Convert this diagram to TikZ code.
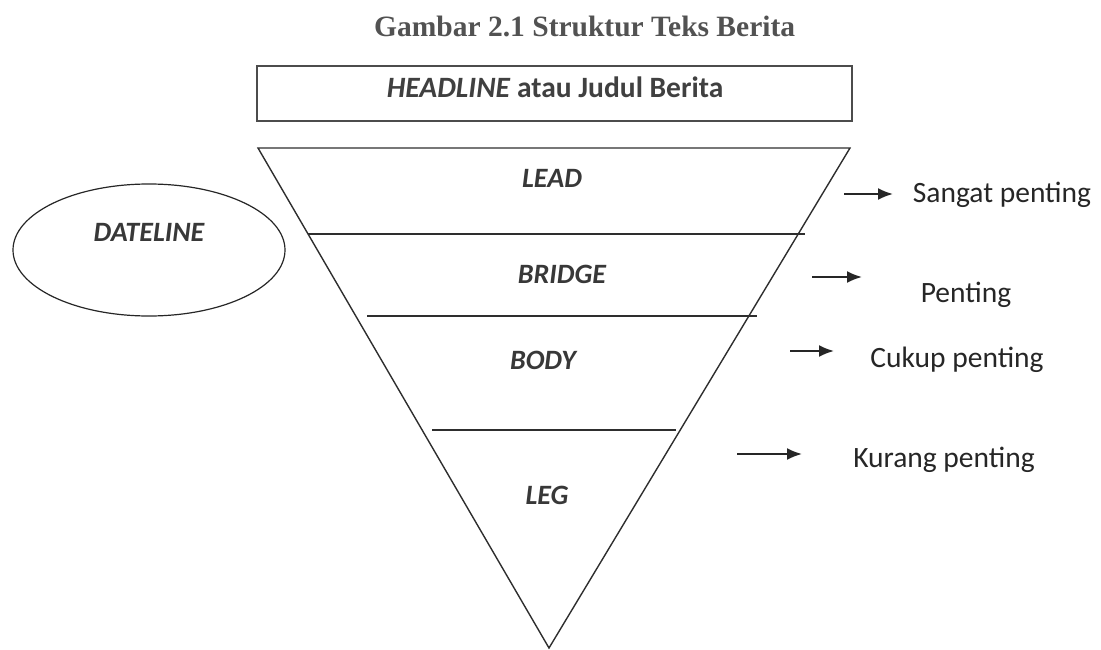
\documentclass[tikz,border=0pt]{standalone}
\usepackage{fontspec}
\setmainfont{Carlito}
\newfontfamily\titlefont{Liberation Serif}
\usetikzlibrary{arrows.meta,shapes.geometric}
\begin{document}
\begin{tikzpicture}[x=1pt,y=-1pt,
  ln/.style={line width=1.4pt, draw=black!82},
  lbl/.style={font=\fontsize{28}{30}\selectfont\bfseries\itshape, text=black!78, inner sep=0pt},
  side/.style={font=\fontsize{29.5}{32}\selectfont, text=black!85, inner sep=0pt},
  arr/.style={line width=1.9pt, draw=black!85, -{Latex[length=15pt,width=12pt]}}]
\useasboundingbox (0,0) rectangle (1101,650);
% title
\node[text=black!68, inner sep=0pt, anchor=west] (title) at (374,26) {\titlefont\bfseries\fontsize{29.5}{32}\selectfont Gambar 2.1 Struktur Teks Berita};
% headline box
\node[draw=black!70, line width=1.3pt, minimum width=595pt, minimum height=55pt, inner sep=0pt] (box) at (554.5,93.5) {};
\node[font=\fontsize{29.5}{32}\selectfont\bfseries, text=black!75, inner sep=0pt] (head) at (555,87) {\textit{HEADLINE} atau Judul Berita};
% triangle
\coordinate (tl) at (258,148);
\coordinate (tr) at (850,148);
\coordinate (ap) at (549,648);
\draw[ln] (tl) -- (tr) -- (ap) -- cycle;
% horizontal lines
\coordinate (l1a) at (308,234); \coordinate (l1b) at (805,234);
\coordinate (l2a) at (367,316); \coordinate (l2b) at (757,316);
\coordinate (l3a) at (432,430); \coordinate (l3b) at (676,430);
\draw[ln] (l1a) -- (l1b);
\draw[ln] (l2a) -- (l2b);
\draw[ln] (l3a) -- (l3b);
% labels
\node[lbl] (lead) at (552,178) {LEAD};
\node[lbl] (bridge) at (562,274) {BRIDGE};
\node[lbl] (body) at (543,360) {BODY};
\node[lbl] (leg) at (547,495) {LEG};
% dateline
\node[draw=black!85, line width=1.2pt, ellipse, minimum width=272pt, minimum height=132pt] (dl) at (149,250) {};
\node[lbl] (dltxt) at (149,232) {DATELINE};
% side labels
\node[side] (s1) at (1002,195) {Sangat penting};
\node[side] (s2) at (966,295) {Penting};
\node[side] (s3) at (957,360) {Cukup penting};
\node[side] (s4) at (944,460) {Kurang penting};
\coordinate (a1s) at (844,194); \coordinate (a1e) at (893,194);
\coordinate (a2s) at (812,277); \coordinate (a2e) at (862,277);
\coordinate (a3s) at (790,351); \coordinate (a3e) at (834,351);
\coordinate (a4s) at (737,454); \coordinate (a4e) at (802,454);
\draw[arr] (a1s) -- (a1e);
\draw[arr] (a2s) -- (a2e);
\draw[arr] (a3s) -- (a3e);
\draw[arr] (a4s) -- (a4e);
\end{tikzpicture}
\end{document}
